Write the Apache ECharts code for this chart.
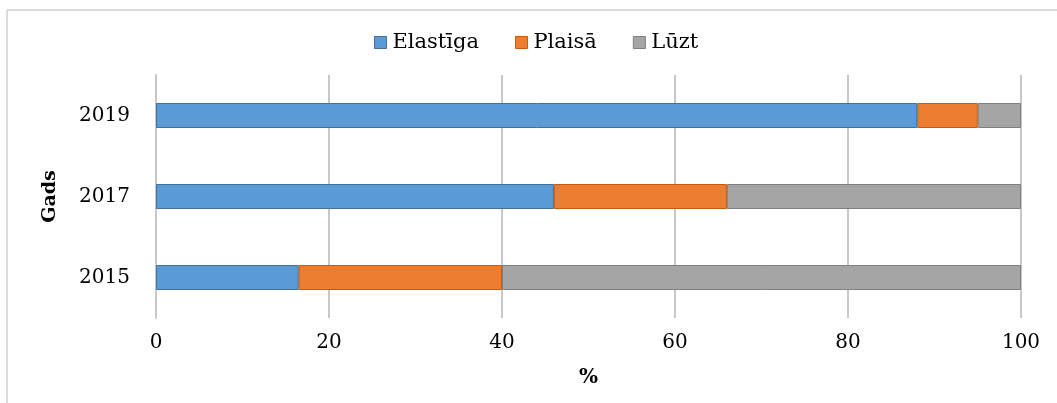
<!DOCTYPE html>
<html>
<head>
<meta charset="utf-8">
<script src="https://cdn.jsdelivr.net/npm/echarts@6/dist/echarts.min.js"></script>
<style>
  html, body { margin: 0; padding: 0; background: #fff; }
  #main { width: 1057px; height: 403px; }
</style>
</head>
<body>
<div id="main"></div>
<script>
var years = ['2015', '2017', '2019'];
var elastiga = [16.5, 46, 88];
var plaisa = [23.5, 20, 7];
var luzt = [60, 34, 5];
var xTicks = [0, 20, 40, 60, 80, 100];

var chartDom = document.getElementById('main');
var myChart = echarts.init(chartDom);
var option;

var serif = '"DejaVu Serif", "Liberation Serif", serif';

option = {
  animation: false,
  textStyle: { fontFamily: serif },
  // frame lines of the original picture
  graphic: [
    { type: 'line', shape: { x1: 7, y1: 10, x2: 1057, y2: 10 }, style: { stroke: '#d0d0d0', lineWidth: 1.5 } },
    { type: 'line', shape: { x1: 7, y1: 10, x2: 7, y2: 403 }, style: { stroke: '#d0d0d0', lineWidth: 1.5 } }
  ],
  legend: {
    top: 27,
    left: 369,
    icon: 'rect',
    itemWidth: 12,
    itemHeight: 12,
    itemGap: 36,
    textStyle: { fontFamily: serif, fontSize: 21, color: '#000', padding: [0, 0, 0, 1] },
    data: [
      { name: 'Elastīga', itemStyle: { borderColor: '#41719C', borderWidth: 1 } },
      { name: 'Plaisā', itemStyle: { borderColor: '#C55A11', borderWidth: 1 } },
      { name: 'Lūzt', itemStyle: { borderColor: '#7F7F7F', borderWidth: 1 } }
    ]
  },
  grid: {
    left: 156,
    right: 36,
    top: 75,
    bottom: 85,
    containLabel: false
  },
  xAxis: {
    type: 'value',
    min: 0,
    max: 100,
    interval: 20,
    name: '%',
    nameLocation: 'middle',
    nameGap: 50,
    nameTextStyle: { fontFamily: serif, fontSize: 20, fontWeight: 'bold', color: '#000' },
    axisLine: { show: false },
    axisTick: { show: false },
    axisLabel: {
      fontFamily: serif,
      fontSize: 20,
      color: '#000',
      margin: 15,
      formatter: function (v) { return xTicks.indexOf(v) >= 0 ? String(v) : ''; }
    },
    splitLine: { show: true, lineStyle: { color: '#c8c8c8', width: 2 } }
  },
  yAxis: {
    type: 'category',
    data: years,
    name: 'Gads',
    nameLocation: 'middle',
    nameGap: 96,
    nameRotate: 90,
    nameTextStyle: { fontFamily: serif, fontSize: 19, fontWeight: 'bold', color: '#000' },
    axisLine: { show: true, lineStyle: { color: '#c8c8c8', width: 2 } },
    axisTick: { show: false },
    axisLabel: { fontFamily: serif, fontSize: 20, color: '#000', margin: 26 }
  },
  series: [
    {
      name: 'Elastīga',
      type: 'bar',
      stack: 'total',
      barWidth: 25,
      data: elastiga,
      itemStyle: { color: '#5B9BD5', borderColor: '#41719C', borderWidth: 1 }
    },
    {
      name: 'Plaisā',
      type: 'bar',
      stack: 'total',
      barWidth: 25,
      data: plaisa,
      itemStyle: { color: '#ED7D31', borderColor: '#C55A11', borderWidth: 1 }
    },
    {
      name: 'Lūzt',
      type: 'bar',
      stack: 'total',
      barWidth: 25,
      data: luzt,
      itemStyle: { color: '#A5A5A5', borderColor: '#7F7F7F', borderWidth: 1 }
    }
  ]
};

option && myChart.setOption(option);
</script>
</body>
</html>
